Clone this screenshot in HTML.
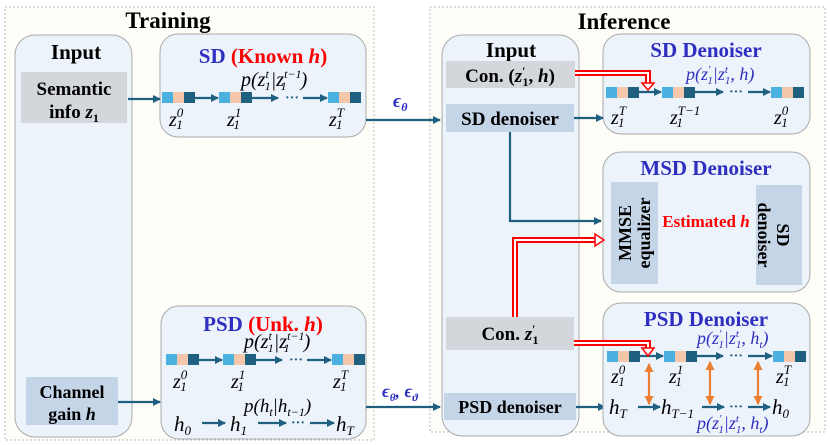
<!DOCTYPE html>
<html><head><meta charset="utf-8"><style>
html,body{margin:0;padding:0;background:#fff;}
svg{display:block}
text{font-family:"Liberation Serif",serif;}
.b{font-weight:bold}
.m{font-style:italic}
</style></head><body>
<svg width="830" height="445" viewBox="0 0 830 445" xmlns="http://www.w3.org/2000/svg">
<defs>
<marker id="ar" markerWidth="8" markerHeight="8" refX="7" refY="4" orient="auto" markerUnits="userSpaceOnUse"><path d="M0,0 L8,4 L0,8 z" fill="#1f5f7f"/></marker>
<marker id="ao" markerWidth="9" markerHeight="9" refX="8" refY="4.5" orient="auto-start-reverse" markerUnits="userSpaceOnUse"><path d="M0,0 L9,4.5 L0,9 z" fill="#ed7d31"/></marker>
</defs>
<rect x="5" y="7" width="369" height="433" fill="#fffdf7" stroke="#bbb" stroke-dasharray="2,2"/>
<rect x="430" y="7" width="395" height="425" fill="#fffdf7" stroke="#bbb" stroke-dasharray="2,2"/>
<text x="168" y="28" font-size="23" class="b" text-anchor="middle">Training</text>
<text x="624" y="29" font-size="23" class="b" text-anchor="middle">Inference</text>

<rect x="15" y="35" width="117" height="402" rx="20" fill="#ecf3fb" stroke="#aaa"/>
<text x="76" y="59" font-size="21" class="b" text-anchor="middle">Input</text>
<rect x="21" y="72" width="106" height="51" fill="#d3d6da"/>
<text x="74" y="95" font-size="19" class="b" text-anchor="middle">Semantic</text>
<text x="74" y="118" font-size="19" class="b" text-anchor="middle">info <tspan class="m">z</tspan><tspan font-size="12" dy="4">1</tspan></text>
<rect x="26" y="377" width="92" height="48" fill="#c5d5e8"/>
<text x="72" y="398" font-size="18" class="b" text-anchor="middle">Channel</text>
<text x="72" y="420" font-size="18" class="b" text-anchor="middle">gain <tspan class="m">h</tspan></text>

<rect x="160" y="34" width="206" height="103" rx="18" fill="#ecf3fb" stroke="#aaa"/>
<text x="263" y="63" font-size="21" class="b" text-anchor="middle"><tspan fill="#2e2ec0">SD </tspan><tspan fill="#f00">(Known <tspan class="m">h</tspan>)</tspan></text>
<text x="241" y="86" font-size="20" class="m">p(z<tspan font-size="12" dy="-8">t</tspan><tspan font-size="12" dx="-4" dy="12">1</tspan><tspan dy="-4">|z</tspan><tspan font-size="12" dy="-8">t−1</tspan><tspan font-size="12" dx="-20" dy="12">1</tspan><tspan dx="14" dy="-4">)</tspan></text>
<g id="chain1">
<rect x="162" y="92" width="11" height="11" fill="#4bb1e0"/><rect x="173" y="92" width="11" height="11" fill="#f5c7aa"/><rect x="184" y="92" width="11" height="11" fill="#1f5f7f"/>
</g>
<use href="#chain1" x="57"/><use href="#chain1" x="166"/>
<g stroke="#1f5f7f" stroke-width="2.2" fill="none" marker-end="url(#ar)">
<line x1="128" y1="99" x2="160" y2="99"/>
<line x1="195" y1="98" x2="218" y2="98"/>
<line x1="252" y1="98" x2="278" y2="98"/>
<line x1="303" y1="98" x2="327" y2="98"/>
</g>
<text x="285" y="102" font-size="14" class="b" fill="#1f5f7f">···</text>
<text x="169" y="126" font-size="20" class="m">z<tspan font-size="13" dy="-9">0</tspan><tspan font-size="13" dx="-7" dy="12">1</tspan></text>
<text x="227" y="126" font-size="20" class="m">z<tspan font-size="13" dy="-9">1</tspan><tspan font-size="13" dx="-7" dy="12">1</tspan></text>
<text x="329" y="126" font-size="20" class="m">z<tspan font-size="13" dy="-9">T</tspan><tspan font-size="13" dx="-8" dy="12">1</tspan></text>
<line x1="366" y1="120" x2="440" y2="120" stroke="#1f5f7f" stroke-width="2.2" marker-end="url(#ar)"/>
<text x="393" y="107" font-size="19" class="m b" fill="#2e2ec0">ϵ<tspan font-size="12" dy="4">θ</tspan></text>

<rect x="161" y="306" width="205" height="133" rx="18" fill="#ecf3fb" stroke="#aaa"/>
<text x="263" y="331" font-size="21" class="b" text-anchor="middle"><tspan fill="#2e2ec0">PSD </tspan><tspan fill="#f00">(Unk. <tspan class="m">h</tspan>)</tspan></text>
<text x="244" y="348" font-size="20" class="m">p(z<tspan font-size="12" dy="-8">t</tspan><tspan font-size="12" dx="-4" dy="12">1</tspan><tspan dy="-4">|z</tspan><tspan font-size="12" dy="-8">t−1</tspan><tspan font-size="12" dx="-20" dy="12">1</tspan><tspan dx="14" dy="-4">)</tspan></text>
<use href="#chain1" x="4" y="262"/><use href="#chain1" x="61" y="262"/><use href="#chain1" x="170" y="262"/>
<g stroke="#1f5f7f" stroke-width="2.2" fill="none" marker-end="url(#ar)">
<line x1="199" y1="360" x2="222" y2="360"/>
<line x1="256" y1="360" x2="282" y2="360"/>
<line x1="307" y1="360" x2="331" y2="360"/>
<line x1="118" y1="402" x2="160" y2="402"/>
<line x1="202" y1="423" x2="225" y2="423"/>
<line x1="258" y1="423" x2="286" y2="423"/>
<line x1="310" y1="423" x2="334" y2="423"/>
</g>
<text x="289" y="364" font-size="14" class="b" fill="#1f5f7f">···</text>
<text x="291" y="427" font-size="14" class="b" fill="#1f5f7f">···</text>
<text x="173" y="388" font-size="20" class="m">z<tspan font-size="13" dy="-9">0</tspan><tspan font-size="13" dx="-7" dy="12">1</tspan></text>
<text x="231" y="388" font-size="20" class="m">z<tspan font-size="13" dy="-9">1</tspan><tspan font-size="13" dx="-7" dy="12">1</tspan></text>
<text x="333" y="388" font-size="20" class="m">z<tspan font-size="13" dy="-9">T</tspan><tspan font-size="13" dx="-8" dy="12">1</tspan></text>
<text x="174" y="431" font-size="21" class="m">h<tspan font-size="13" dy="4">0</tspan></text>
<text x="230" y="431" font-size="21" class="m">h<tspan font-size="13" dy="4">1</tspan></text>
<text x="336" y="431" font-size="21" class="m">h<tspan font-size="13" dy="4">T</tspan></text>
<text x="244" y="412" font-size="19" class="m">p(h<tspan font-size="12" dy="4">t</tspan><tspan dy="-4">|h</tspan><tspan font-size="12" dy="4">t−1</tspan><tspan dy="-4">)</tspan></text>
<line x1="366" y1="407" x2="440" y2="407" stroke="#1f5f7f" stroke-width="2.2" marker-end="url(#ar)"/>
<text x="382" y="397" font-size="18" class="m b" fill="#2e2ec0">ϵ<tspan font-size="11" dy="4">θ</tspan><tspan dy="-4">, ϵ</tspan><tspan font-size="11" dy="4">ϑ</tspan></text>

<rect x="442" y="35" width="137" height="401" rx="20" fill="#ecf3fb" stroke="#aaa"/>
<text x="511" y="57" font-size="21" class="b" text-anchor="middle">Input</text>
<rect x="446" y="61" width="129" height="27" fill="#d3d6da"/>
<text x="510" y="82" font-size="19" class="b" text-anchor="middle">Con. (<tspan class="m">z</tspan><tspan font-size="12" dy="-7">′</tspan><tspan font-size="12" dx="-3" dy="11">1</tspan><tspan dy="-4">, </tspan><tspan class="m">h</tspan>)</text>
<rect x="446" y="104" width="128" height="28" fill="#c5d5e8"/>
<text x="510" y="125" font-size="19" class="b" text-anchor="middle">SD denoiser</text>
<rect x="446" y="317" width="128" height="33" fill="#d3d6da"/>
<text x="510" y="340" font-size="19" class="b" text-anchor="middle">Con. <tspan class="m">z</tspan><tspan font-size="12" dy="-7">′</tspan><tspan font-size="12" dx="-3" dy="11">1</tspan></text>
<rect x="444" y="393" width="132" height="27" fill="#c5d5e8"/>
<text x="510" y="413" font-size="18" class="b" text-anchor="middle">PSD denoiser</text>

<rect x="603" y="34" width="207" height="100" rx="18" fill="#ecf3fb" stroke="#aaa"/>
<text x="706" y="57" font-size="21" class="b" text-anchor="middle" fill="#2e2ec0">SD Denoiser</text>
<text x="686" y="80" font-size="18" class="m" fill="#2e2ec0">p(z<tspan font-size="11" dy="-7">′</tspan><tspan font-size="11" dx="-3" dy="11">1</tspan><tspan dy="-4">|z</tspan><tspan font-size="11" dy="-7">t</tspan><tspan font-size="11" dx="-3" dy="11">1</tspan><tspan dy="-4">, h)</tspan></text>
<use href="#chain1" x="444" y="-5"/><use href="#chain1" x="500" y="-5"/><use href="#chain1" x="609" y="-5"/>
<g stroke="#1f5f7f" stroke-width="2.2" fill="none" marker-end="url(#ar)">
<line x1="639" y1="92" x2="661" y2="92"/>
<line x1="695" y1="92" x2="723" y2="92"/>
<line x1="748" y1="92" x2="770" y2="92"/>
<line x1="574" y1="118" x2="603" y2="118"/>
<polyline points="510,132 510,221 601,221"/>
<line x1="658" y1="234" x2="755" y2="234"/>
<line x1="576" y1="407" x2="605" y2="407"/>
</g>
<text x="729" y="96" font-size="14" class="b" fill="#1f5f7f">···</text>
<text x="611" y="124" font-size="20" class="m">z<tspan font-size="13" dy="-9">T</tspan><tspan font-size="13" dx="-8" dy="12">1</tspan></text>
<text x="670" y="124" font-size="20" class="m">z<tspan font-size="13" dy="-9">T−1</tspan><tspan font-size="13" dx="-23" dy="12">1</tspan></text>
<text x="774" y="124" font-size="20" class="m">z<tspan font-size="13" dy="-9">0</tspan><tspan font-size="13" dx="-7" dy="12">1</tspan></text>

<rect x="603" y="152" width="207" height="140" rx="18" fill="#ecf3fb" stroke="#aaa"/>
<text x="706" y="175" font-size="21" class="b" text-anchor="middle" fill="#2e2ec0">MSD Denoiser</text>
<rect x="611" y="182" width="47" height="102" fill="#c5d5e8"/>
<text transform="translate(631,233) rotate(-90)" font-size="18" class="b" text-anchor="middle">MMSE</text>
<text transform="translate(650,233) rotate(-90)" font-size="18" class="b" text-anchor="middle">equalizer</text>
<rect x="756" y="185" width="46" height="100" fill="#c5d5e8"/>
<text transform="translate(777,235) rotate(90)" font-size="18" class="b" text-anchor="middle">SD</text>
<text transform="translate(758,235) rotate(90)" font-size="18" class="b" text-anchor="middle">denoiser</text>
<text x="706" y="227" font-size="17" class="b" text-anchor="middle" fill="#f00">Estimated <tspan class="m">h</tspan></text>

<rect x="603" y="303" width="207" height="133" rx="18" fill="#ecf3fb" stroke="#aaa"/>
<text x="706" y="326" font-size="21" class="b" text-anchor="middle" fill="#2e2ec0">PSD Denoiser</text>
<text x="697" y="344" font-size="18" class="m" fill="#2e2ec0">p(z<tspan font-size="11" dy="-7">′</tspan><tspan font-size="11" dx="-3" dy="11">1</tspan><tspan dy="-4">|z</tspan><tspan font-size="11" dy="-7">t</tspan><tspan font-size="11" dx="-3" dy="11">1</tspan><tspan dy="-4">, h</tspan><tspan font-size="11" dy="4">t</tspan><tspan dy="-4">)</tspan></text>
<text x="697" y="429" font-size="18" class="m" fill="#2e2ec0">p(z<tspan font-size="11" dy="-7">′</tspan><tspan font-size="11" dx="-3" dy="11">1</tspan><tspan dy="-4">|z</tspan><tspan font-size="11" dy="-7">t</tspan><tspan font-size="11" dx="-3" dy="11">1</tspan><tspan dy="-4">, h</tspan><tspan font-size="11" dy="4">t</tspan><tspan dy="-4">)</tspan></text>
<use href="#chain1" x="445" y="259"/><use href="#chain1" x="502" y="259"/><use href="#chain1" x="611" y="259"/>
<g stroke="#1f5f7f" stroke-width="2.2" fill="none" marker-end="url(#ar)">
<line x1="640" y1="356" x2="663" y2="356"/>
<line x1="697" y1="356" x2="723" y2="356"/>
<line x1="748" y1="356" x2="772" y2="356"/>
<line x1="638" y1="407" x2="660" y2="407"/>
<line x1="702" y1="407" x2="724" y2="407"/>
<line x1="748" y1="407" x2="770" y2="407"/>
</g>
<text x="729" y="360" font-size="14" class="b" fill="#1f5f7f">···</text>
<text x="729" y="411" font-size="14" class="b" fill="#1f5f7f">···</text>
<text x="611" y="383" font-size="20" class="m">z<tspan font-size="13" dy="-9">0</tspan><tspan font-size="13" dx="-7" dy="12">1</tspan></text>
<text x="669" y="383" font-size="20" class="m">z<tspan font-size="13" dy="-9">1</tspan><tspan font-size="13" dx="-7" dy="12">1</tspan></text>
<text x="776" y="383" font-size="20" class="m">z<tspan font-size="13" dy="-9">T</tspan><tspan font-size="13" dx="-8" dy="12">1</tspan></text>
<text x="609" y="414" font-size="21" class="m">h<tspan font-size="13" dy="4">T</tspan></text>
<text x="661" y="414" font-size="21" class="m">h<tspan font-size="13" dy="4">T−1</tspan></text>
<text x="772" y="414" font-size="21" class="m">h<tspan font-size="13" dy="4">0</tspan></text>
<g stroke="#ed7d31" stroke-width="2.2" marker-start="url(#ao)" marker-end="url(#ao)">
<line x1="649" y1="364" x2="649" y2="404"/>
<line x1="710" y1="362" x2="710" y2="404"/>
<line x1="758" y1="362" x2="758" y2="404"/>
</g>

<g fill="none" stroke-linejoin="miter">
<path d="M575,73 H648 V84" stroke="#f00" stroke-width="6"/>
<path d="M575,73 H648 V84" stroke="#fff" stroke-width="2"/>
<path d="M642,83 L654,83 L648,90 z" fill="#fff" stroke="#f00" stroke-width="1.5"/>
<path d="M574,343 H648 V349" stroke="#f00" stroke-width="6"/>
<path d="M574,343 H648 V349" stroke="#fff" stroke-width="2"/>
<path d="M642,348 L654,348 L648,356 z" fill="#fff" stroke="#f00" stroke-width="1.5"/>
<path d="M515,317 V240 H596" stroke="#f00" stroke-width="6"/>
<path d="M515,317 V240 H596" stroke="#fff" stroke-width="2"/>
<path d="M595,234 L595,246 L604,240 z" fill="#fff" stroke="#f00" stroke-width="1.5"/>
</g>
</svg>
</body></html>
